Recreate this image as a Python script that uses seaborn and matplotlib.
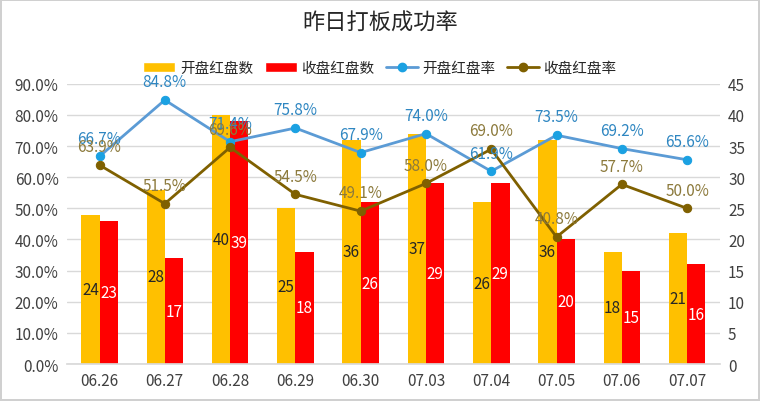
import matplotlib
matplotlib.use('Agg')
import matplotlib.pyplot as plt
import numpy as np
import pandas as pd
import seaborn as sns
from matplotlib.lines import Line2D
from matplotlib.patches import Patch

# ---------------------------------------------------------------------------
# Data
# ---------------------------------------------------------------------------
dates = ["06.26", "06.27", "06.28", "06.29", "06.30",
         "07.03", "07.04", "07.05", "07.06", "07.07"]
open_red_cnt = [24, 28, 40, 25, 36, 37, 26, 36, 18, 21]
close_red_cnt = [23, 17, 39, 18, 26, 29, 29, 20, 15, 16]
open_red_rate = [66.7, 84.8, 71.4, 75.8, 67.9, 74.0, 61.9, 73.5, 69.2, 65.6]
close_red_rate = [63.9, 51.5, 69.6, 54.5, 49.1, 58.0, 69.0, 40.8, 57.7, 50.0]

ORANGE = "#FFC000"
RED = "#FF0000"
BLUE_LINE = "#5B9BD5"
BLUE_DOT = "#1BA1E2"
BLUE_TXT = "#2E86C1"
BROWN = "#7F6000"
BROWN_TXT = "#8C7A3C"

sns.set_theme(style="white")
plt.rcParams['font.family'] = ['Noto Sans CJK SC', 'DejaVu Sans']

bars = pd.DataFrame({
    "date": dates * 2,
    "count": open_red_cnt + close_red_cnt,
    "kind": ["开盘红盘数"] * len(dates) + ["收盘红盘数"] * len(dates),
})

fig = plt.figure(figsize=(7.6, 4.02), dpi=100)
fig.patch.set_edgecolor("#D0D0D0")
fig.patch.set_linewidth(1.5)

ax2 = fig.add_axes([0.088, 0.092, 0.859, 0.697])   # bars, right scale
ax = ax2.twinx()                                    # lines, left scale
ax.set_zorder(ax2.get_zorder() + 1)
ax.patch.set_visible(False)

# bars
sns.barplot(data=bars, x="date", y="count", hue="kind",
            palette=[ORANGE, RED], saturation=1, width=0.56, gap=0,
            linewidth=0, ax=ax2, legend=False)
ax2.set_ylim(0, 45)
ax2.set_yticks(range(0, 46, 5))
ax2.yaxis.tick_right()
ax2.yaxis.set_label_position("right")
ax2.grid(axis="y", color="#D9D9D9", lw=1)
ax2.set_axisbelow(True)
ax2.set_xlabel("")
ax2.set_ylabel("")

for cont, col in zip(ax2.containers, ["#262626", "white"]):
    ax2.bar_label(cont, label_type="center", color=col, fontsize=11)

# lines
pos = np.arange(len(dates))
sns.lineplot(x=pos, y=open_red_rate, ax=ax, color=BLUE_LINE, lw=2.0,
             marker="o", markersize=6, markerfacecolor=BLUE_DOT,
             markeredgecolor=BLUE_DOT)
sns.lineplot(x=pos, y=close_red_rate, ax=ax, color=BROWN, lw=2.0,
             marker="o", markersize=6, markerfacecolor=BROWN,
             markeredgecolor=BROWN)
for x, v in zip(pos, open_red_rate):
    ax.annotate(f"{v:.1f}%", (x, v), xytext=(0, 7), textcoords="offset points",
                ha="center", va="bottom", color=BLUE_TXT, fontsize=11)
for x, v in zip(pos, close_red_rate):
    ax.annotate(f"{v:.1f}%", (x, v), xytext=(0, 7), textcoords="offset points",
                ha="center", va="bottom", color=BROWN_TXT, fontsize=11)

ax.set_ylim(0, 90)
ax.set_yticks(range(0, 91, 10))
ax.set_yticklabels([f"{t:.1f}%" for t in range(0, 91, 10)])
ax.yaxis.tick_left()
ax.set_xlim(-0.5, len(dates) - 0.5)

for a in (ax, ax2):
    for s in a.spines.values():
        s.set_visible(False)
    a.tick_params(axis="both", length=0, labelsize=11, colors="#404040", pad=6)
ax2.spines["bottom"].set_visible(True)
ax2.spines["bottom"].set_color("#D9D9D9")

fig.suptitle("昨日打板成功率", y=0.97, fontsize=16, color="#262626")

handles = [
    Patch(facecolor=ORANGE, label="开盘红盘数"),
    Patch(facecolor=RED, label="收盘红盘数"),
    Line2D([], [], color=BLUE_LINE, lw=2.0, marker="o", markersize=6,
           markerfacecolor=BLUE_DOT, markeredgecolor=BLUE_DOT, label="开盘红盘率"),
    Line2D([], [], color=BROWN, lw=2.0, marker="o", markersize=6,
           markerfacecolor=BROWN, markeredgecolor=BROWN, label="收盘红盘率"),
]
fig.legend(handles=handles, loc="center", bbox_to_anchor=(0.5, 0.828), ncol=4,
           frameon=False, fontsize=10.5, handlelength=2.2, handletextpad=0.3,
           columnspacing=0.8)

fig.savefig("out.png", dpi=100)
